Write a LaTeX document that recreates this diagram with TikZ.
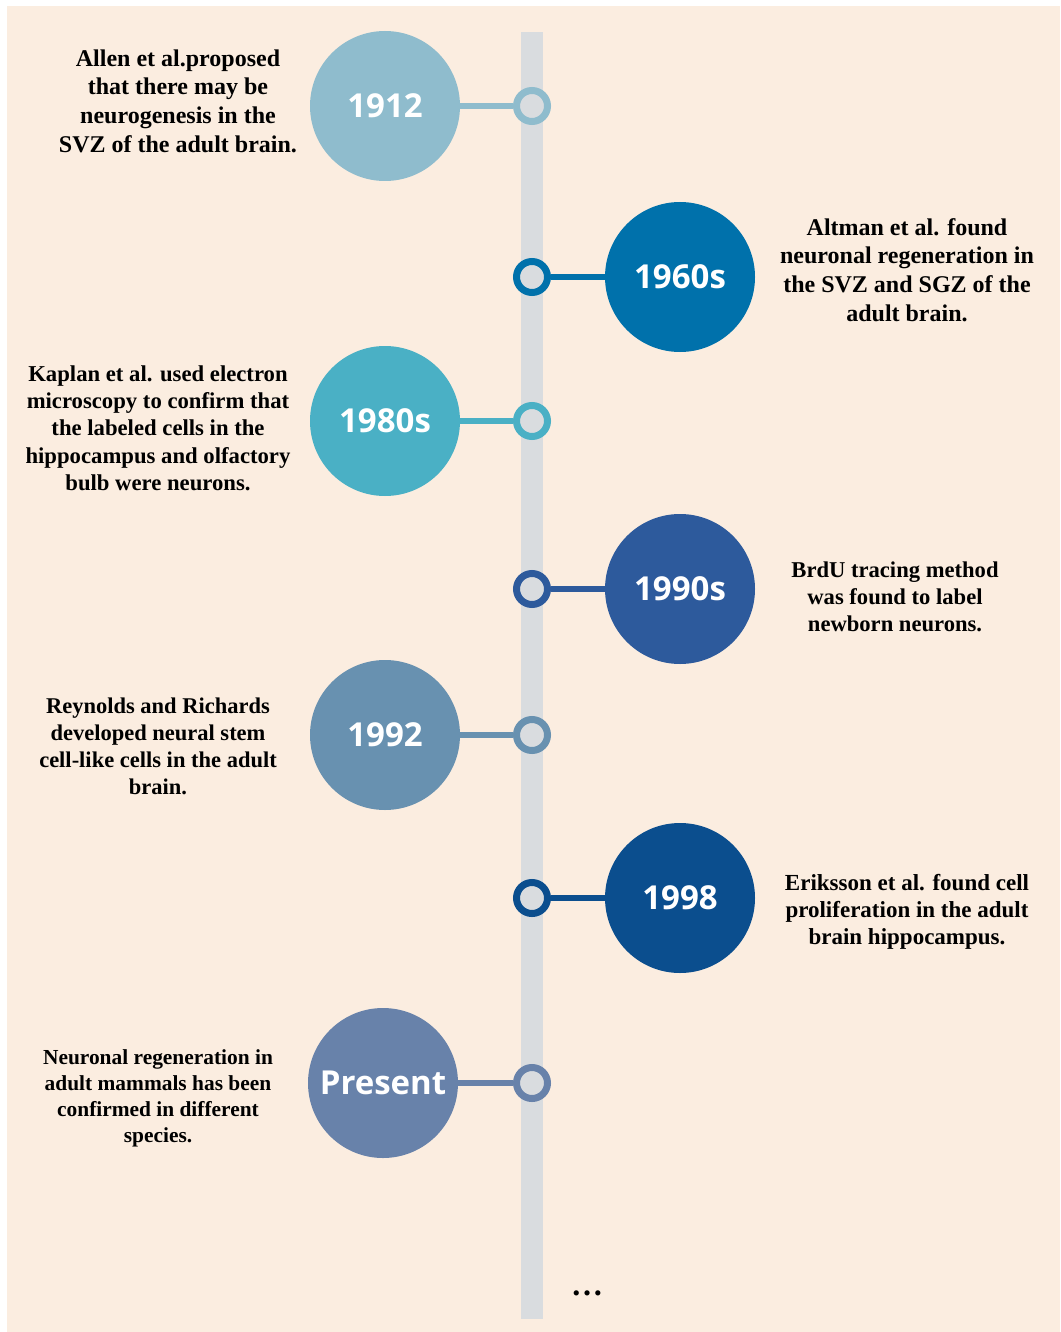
\documentclass[tikz,border=0pt]{standalone}
\usepackage{fontspec}
\setmainfont{Liberation Serif}
\newfontfamily\yearfont{Open Sans}
\usetikzlibrary{positioning}
\definecolor{bgbeige}{HTML}{FBEDE0}
\definecolor{bargray}{HTML}{D9DCDF}
\definecolor{cA}{HTML}{8FBCCD}
\definecolor{cB}{HTML}{0071AB}
\definecolor{cC}{HTML}{4AB0C5}
\definecolor{cD}{HTML}{2D5A9C}
\definecolor{cE}{HTML}{6891B0}
\definecolor{cF}{HTML}{0B4E8E}
\definecolor{cG}{HTML}{6882AA}
\tikzset{
  yearball/.style={circle, fill=#1, minimum size=150pt, inner sep=0pt,
    text=white, font=\yearfont\bfseries\fontsize{33}{38}\selectfont},
  ring/.style={circle, draw=#1, line width=7pt, fill=bargray, minimum size=31pt, inner sep=0pt},
  link/.style={draw=#1, line width=6pt},
  desc/.style 2 args={align=center, text=black, inner sep=0pt,
    font=\bfseries\fontsize{#1}{#2}\selectfont}
}

\begin{document}
\begin{tikzpicture}[x=1pt,y=-1pt]
        %背景
        \useasboundingbox (0,0) rectangle (1060,1332);
        \fill [bgbeige] (7,6) rectangle (1060,1332);
        %时间轴
        \fill [bargray] (521,32) rectangle (543,1319);
        %年份圆
        \node [yearball=cA] (y1912) at (385,106) {1912};
        \node [yearball=cB] (y1960) at (680,277) {1960s};
        \node [yearball=cC] (y1980) at (385,421) {1980s};
        \node [yearball=cD] (y1990) at (680,589) {1990s};
        \node [yearball=cE] (y1992) at (385,735) {1992};
        \node [yearball=cF] (y1998) at (680,898) {1998};
        \node [yearball=cG] (ynow) at (383,1083) {Present};
        %轴上小圆环
        \node [ring=cA] (r1912) at (532,106) {};
        \node [ring=cB] (r1960) at (532,277) {};
        \node [ring=cC] (r1980) at (532,421) {};
        \node [ring=cD] (r1990) at (532,589) {};
        \node [ring=cE] (r1992) at (532,735) {};
        \node [ring=cF] (r1998) at (532,898) {};
        \node [ring=cG] (rnow) at (532,1083) {};
        %连线
        \draw [link=cA] (y1912) -- (r1912);
        \draw [link=cB] (y1960) -- (r1960);
        \draw [link=cC] (y1980) -- (r1980);
        \draw [link=cD] (y1990) -- (r1990);
        \draw [link=cE] (y1992) -- (r1992);
        \draw [link=cF] (y1998) -- (r1998);
        \draw [link=cG] (ynow) -- (rnow);
        %说明文字
        \node [desc={24}{28.7}] (t1912) at (178,101) {Allen et al.proposed\\that there may be\\neurogenesis in the\\SVZ of the adult brain.};
        \node [desc={24}{28.7}] (t1960) at (907,270) {Altman et al. found\\neuronal regeneration in\\the SVZ and SGZ of the\\adult brain.};
        \node [desc={22.7}{27.3}] (t1980) at (158,428) {Kaplan et al. used electron\\microscopy to confirm that\\the labeled cells in the\\hippocampus and olfactory\\bulb were neurons.};
        \node [desc={22.6}{27}] (t1990) at (895,597) {BrdU tracing method\\was found to label\\newborn neurons.};
        \node [desc={22.5}{27}] (t1992) at (158,746) {Reynolds and Richards\\developed neural stem\\cell-like cells in the adult\\brain.};
        \node [desc={23}{27}] (t1998) at (907,912) {Eriksson et al. found cell\\proliferation in the adult\\brain hippocampus.};
        \node [desc={21.4}{26}] (tnow) at (158,1098) {Neuronal regeneration in\\adult mammals has been\\confirmed in different\\species.};
        %省略号
        \node [font=\bfseries\fontsize{32}{36}\selectfont] (more) at (587,1293) {\dots};
    \end{tikzpicture}
\end{document}
